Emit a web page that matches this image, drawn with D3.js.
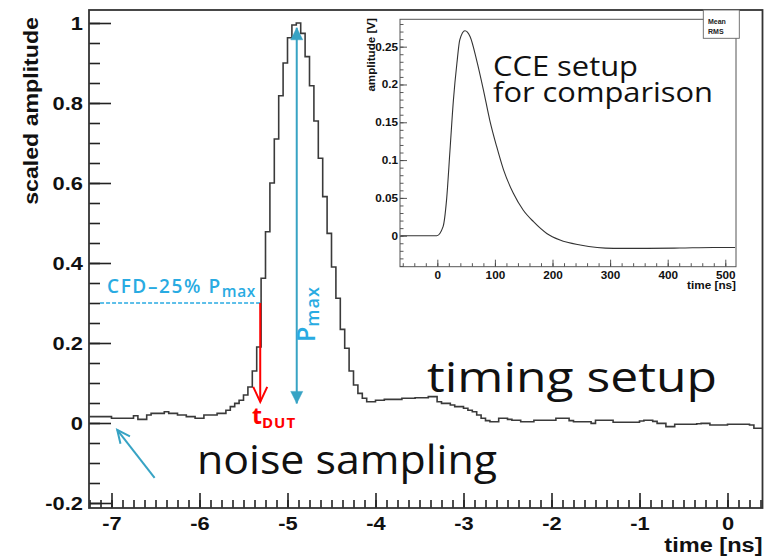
<!DOCTYPE html>
<html>
<head>
<meta charset="utf-8">
<script src="https://cdn.jsdelivr.net/npm/d3@7"></script>
<style>
  body { margin: 0; background: #fff; }
  svg { display: block; }
</style>
</head>
<body>
<script>
// timing setup: scaled amplitude per 50 ps bin, first bin starts at -7.25 ns
const binStart = -7.25;
const binWidth = 0.05;
const amplitude = [
  0.016, 0.016, 0.016, 0.016, 0.016, 0.012, 0.012, 0.012, 0.012, 0.012,
  0.018, 0.009, 0.009, 0.020, 0.024, 0.024, 0.024, 0.028, 0.024, 0.024,
  0.020, 0.020, 0.016, 0.016, 0.012, 0.012, 0.020, 0.020, 0.020, 0.024,
  0.024, 0.032, 0.041, 0.049, 0.057, 0.070, 0.090, 0.130, 0.190, 0.362,
  0.478, 0.600, 0.710, 0.818, 0.900, 0.963, 0.995, 1.000, 0.974, 0.916,
  0.843, 0.755, 0.662, 0.566, 0.474, 0.390, 0.312, 0.234, 0.187, 0.130,
  0.095, 0.074, 0.062, 0.053, 0.053, 0.057, 0.057, 0.059, 0.059, 0.059,
  0.059, 0.062, 0.062, 0.062, 0.063, 0.063, 0.063, 0.066, 0.066, 0.053,
  0.049, 0.049, 0.045, 0.041, 0.041, 0.037, 0.032, 0.028, 0.020, 0.012,
  0.006, 0.003, 0.003, 0.012, 0.012, 0.009, 0.007, 0.007, 0.003, 0.003,
  0.003, 0.007, 0.007, 0.007, 0.007, 0.007, 0.012, 0.012, 0.012, 0.006,
  0.003, 0.003, 0.003, 0.003, -0.001, 0.007, 0.007, 0.007, 0.007, 0.002,
  0.002, 0.002, 0.002, 0.002, 0.002, 0.005, 0.007, 0.007, 0.004, -0.001,
  -0.001, -0.009, -0.009, -0.003, -0.003, -0.003, -0.003, -0.003, -0.002, -0.001,
  -0.001, -0.005, -0.005, -0.005, -0.005, -0.003, -0.003, -0.003, -0.003, -0.003,
  -0.005, -0.013, -0.013
];

// CCE setup (inset): time [ns] and amplitude [V]
const cceTime = [-64, -1, 10, 16, 22, 28, 34, 39, 48, 57, 68, 80, 91, 103, 115, 132, 149, 167, 190, 213, 248, 306, 364, 421, 479, 517];
const cceAmp = [0, 0, 0.012, 0.047, 0.113, 0.18, 0.228, 0.259, 0.271, 0.263, 0.233, 0.193, 0.153, 0.118, 0.087, 0.056, 0.034, 0.0185, 0.003, -0.0057, -0.0123, -0.0167, -0.0167, -0.0163, -0.0157, -0.0157];

const mainXTicks = [-7, -6, -5, -4, -3, -2, -1, 0];
const mainYTicks = [-0.2, 0, 0.2, 0.4, 0.6, 0.8, 1];
const insetXTicks = [0, 100, 200, 300, 400, 500];
const insetYTicks = [0, 0.05, 0.1, 0.15, 0.2, 0.25];

// annotation anchors in data units
const cfdLevel = 0.3;
const cfdStart = -7.13;
const tDut = -5.31;
const tDutEnd = 0.053;
const tPeak = -4.895;
const pmaxTop = 0.988;
const pmaxBottom = 0.049;
const noiseFrom = [-6.51, -0.137];
const noiseTo = [-6.935, -0.017];

const W = 771, H = 559;
const frame = {left: 89, right: 762.5, top: 10, bottom: 508};
const rootFont = '"Liberation Sans", Arial, sans-serif';
const noteFont = '"Open Sans", "Noto Sans", sans-serif';
const cyan = '#29abe2';
const teal = '#37a3c4';

const svg = d3.select('body').append('svg')
  .attr('width', W)
  .attr('height', H);

const defs = svg.append('defs');
function marker(id, path, color, filled, w, h) {
  defs.append('marker')
    .attr('id', id)
    .attr('viewBox', `0 0 ${w} ${h}`)
    .attr('markerUnits', 'userSpaceOnUse')
    .attr('markerWidth', w)
    .attr('markerHeight', h)
    .attr('refX', w)
    .attr('refY', h / 2)
    .attr('orient', 'auto-start-reverse')
    .style('overflow', 'visible')
    .append('path')
    .attr('d', path)
    .attr('fill', filled ? color : 'none')
    .attr('stroke', color)
    .attr('stroke-width', filled ? 0.5 : 2);
}
marker('redHead', 'M0,0 L15,7 L0,14', '#ff0000', false, 15, 14);
marker('tealHead', 'M0,0 L12,6 L0,12 Z', teal, true, 12, 12);
marker('noiseHead', 'M0,0 L13,6 L0,12', teal, false, 13, 12);

const x = d3.scaleLinear().domain([-7.2557, 0.3977]).range([frame.left, frame.right]);
const y = d3.scaleLinear().domain([-0.2125, 1.0325]).range([frame.bottom, frame.top]);

// histogram as a step line
const pts = amplitude.map((v, i) => [binStart + i * binWidth, v]);
pts.push([binStart + amplitude.length * binWidth, amplitude[amplitude.length - 1]]);

defs.append('clipPath').attr('id', 'frameClip')
  .append('rect')
  .attr('x', frame.left).attr('y', frame.top)
  .attr('width', frame.right - frame.left).attr('height', frame.bottom - frame.top);

svg.append('path')
  .datum(pts)
  .attr('clip-path', 'url(#frameClip)')
  .attr('fill', 'none')
  .attr('stroke', '#3a3a3a')
  .attr('stroke-width', 1.6)
  .attr('d', d3.line().x(d => x(d[0])).y(d => y(d[1])).curve(d3.curveStepAfter));

// axes, ticks pointing into the frame
function styleTicks(g, color, width) {
  g.select('.domain').remove();
  g.selectAll('line').attr('stroke', color).attr('stroke-width', width);
}

const yMinor = d3.range(-0.2, 1.001, 0.05);
const gyMinor = svg.append('g')
  .attr('transform', `translate(${frame.left},0)`)
  .call(d3.axisLeft(y).tickValues(yMinor).tickSizeInner(-11).tickSizeOuter(0).tickFormat(''));
styleTicks(gyMinor, '#222', 1.6);

const gy = svg.append('g')
  .attr('transform', `translate(${frame.left},0)`)
  .call(d3.axisLeft(y).tickValues(mainYTicks).tickSizeInner(-22).tickSizeOuter(0).tickPadding(6).tickFormat(d => String(d)));
styleTicks(gy, '#222', 1.6);
gy.selectAll('text')
  .attr('x', null)
  .attr('transform', 'translate(-6,0) scale(1.15,1)')
  .attr('font-family', rootFont)
  .attr('font-size', 19)
  .attr('font-weight', 'bold')
  .attr('fill', '#111');

const xMinor = d3.range(-7.25, 0.4, 0.125);
const gxMinor = svg.append('g')
  .attr('transform', `translate(0,${frame.bottom})`)
  .call(d3.axisBottom(x).tickValues(xMinor).tickSizeInner(-8).tickSizeOuter(0).tickFormat(''));
styleTicks(gxMinor, '#222', 1.6);

const gx = svg.append('g')
  .attr('transform', `translate(0,${frame.bottom})`)
  .call(d3.axisBottom(x).tickValues(mainXTicks).tickSizeInner(-15).tickSizeOuter(0).tickPadding(9).tickFormat(d => String(d)));
styleTicks(gx, '#222', 1.6);
gx.selectAll('text')
  .attr('transform', 'scale(1.15,1)')
  .attr('font-family', rootFont)
  .attr('font-size', 19)
  .attr('font-weight', 'bold')
  .attr('fill', '#111');

svg.append('rect')
  .attr('x', frame.left).attr('y', frame.top)
  .attr('width', frame.right - frame.left).attr('height', frame.bottom - frame.top)
  .attr('fill', 'none')
  .attr('stroke', '#333')
  .attr('stroke-width', 1.8);

svg.append('text')
  .attr('transform', `translate(${frame.right},552) scale(1.15,1)`)
  .attr('text-anchor', 'end')
  .attr('font-family', rootFont)
  .attr('font-size', 20.5)
  .attr('font-weight', 'bold')
  .attr('fill', '#111')
  .text('time [ns]');

svg.append('text')
  .attr('transform', 'translate(38,17) rotate(-90) scale(1.13,1)')
  .attr('text-anchor', 'end')
  .attr('font-family', rootFont)
  .attr('font-size', 20.5)
  .attr('font-weight', 'bold')
  .attr('fill', '#111')
  .text('scaled amplitude');

// inset: CCE setup
const inset = {left: 400, right: 736, top: 19.3, bottom: 266.7};
const xi = d3.scaleLinear().domain([-64.8, 518.6]).range([inset.left, inset.right]);
const yi = d3.scaleLinear().domain([-0.041, 0.2862]).range([inset.bottom, inset.top]);
const gi = svg.append('g');

gi.append('rect')
  .attr('x', inset.left).attr('y', inset.top)
  .attr('width', inset.right - inset.left).attr('height', inset.bottom - inset.top)
  .attr('fill', '#fff');

gi.append('path')
  .datum(cceTime.map((t, i) => [t, cceAmp[i]]))
  .attr('fill', 'none')
  .attr('stroke', '#333')
  .attr('stroke-width', 1.1)
  .attr('d', d3.line().x(d => xi(d[0])).y(d => yi(d[1])).curve(d3.curveMonotoneX));

const yiMinor = d3.range(-0.04, 0.2801, 0.01);
styleTicks(gi.append('g').attr('transform', `translate(${inset.left},0)`)
  .call(d3.axisLeft(yi).tickValues(yiMinor).tickSizeInner(-3.5).tickSizeOuter(0).tickFormat('')), '#444', 0.9);
const giy = gi.append('g').attr('transform', `translate(${inset.left},0)`)
  .call(d3.axisLeft(yi).tickValues(insetYTicks).tickSizeInner(-7).tickSizeOuter(0).tickPadding(2).tickFormat(d => String(d)));
styleTicks(giy, '#444', 0.9);
giy.selectAll('text')
  .attr('x', null)
  .attr('transform', 'translate(-2,0) scale(1.12,1)')
  .attr('font-family', rootFont)
  .attr('font-size', 10.5)
  .attr('font-weight', 'bold')
  .attr('fill', '#111');

const xiMinor = d3.range(-60, 519, 20);
styleTicks(gi.append('g').attr('transform', `translate(0,${inset.bottom})`)
  .call(d3.axisBottom(xi).tickValues(xiMinor).tickSizeInner(-3.5).tickSizeOuter(0).tickFormat('')), '#444', 0.9);
const gix = gi.append('g').attr('transform', `translate(0,${inset.bottom})`)
  .call(d3.axisBottom(xi).tickValues(insetXTicks).tickSizeInner(-7).tickSizeOuter(0).tickPadding(5).tickFormat(d => String(d)));
styleTicks(gix, '#444', 0.9);
gix.selectAll('text')
  .attr('transform', 'scale(1.12,1)')
  .attr('font-family', rootFont)
  .attr('font-size', 10.5)
  .attr('font-weight', 'bold')
  .attr('fill', '#111');

gi.append('rect')
  .attr('x', inset.left).attr('y', inset.top)
  .attr('width', inset.right - inset.left).attr('height', inset.bottom - inset.top)
  .attr('fill', 'none')
  .attr('stroke', '#555')
  .attr('stroke-width', 1);

gi.append('text')
  .attr('transform', `translate(${inset.right},289) scale(1.13,1)`)
  .attr('text-anchor', 'end')
  .attr('font-family', rootFont)
  .attr('font-size', 10.4)
  .attr('font-weight', 'bold')
  .attr('fill', '#111')
  .text('time [ns]');

gi.append('text')
  .attr('transform', 'translate(375,18) rotate(-90) scale(1.13,1)')
  .attr('text-anchor', 'end')
  .attr('font-family', rootFont)
  .attr('font-size', 10.3)
  .attr('font-weight', 'bold')
  .attr('fill', '#111')
  .text('amplitude [V]');

// stats box
gi.append('rect')
  .attr('x', 703.3).attr('y', frame.top)
  .attr('width', 36).attr('height', 28.3)
  .attr('fill', '#fff')
  .attr('stroke', '#666')
  .attr('stroke-width', 0.9);
[['Mean', 23.5], ['RMS', 33.5]].forEach(([label, by]) => {
  gi.append('text')
    .attr('x', 708).attr('y', by)
    .attr('font-family', rootFont)
    .attr('font-size', 7)
    .attr('font-weight', 'bold')
    .attr('fill', '#222')
    .text(label);
});

// free text labels, stretched to the widths seen in the picture
function note(g, label, px, py, size, len) {
  return g.append('text')
    .attr('x', px).attr('y', py)
    .attr('font-family', noteFont)
    .attr('font-size', size)
    .attr('fill', '#111')
    .attr('textLength', len)
    .attr('lengthAdjust', 'spacingAndGlyphs')
    .text(label);
}
note(gi, 'CCE setup', 493, 76, 28, 145);
note(gi, 'for comparison', 493, 102, 28, 220);

// annotations on the timing pulse
svg.append('line')
  .attr('x1', x(cfdStart)).attr('x2', x(tDut))
  .attr('y1', y(cfdLevel)).attr('y2', y(cfdLevel))
  .attr('stroke', cyan)
  .attr('stroke-width', 1.5)
  .attr('stroke-dasharray', '4,2');

const cfdText = svg.append('text')
  .attr('x', 107).attr('y', 293)
  .attr('font-family', noteFont)
  .attr('font-weight', 600)
  .attr('font-size', 19)
  .attr('letter-spacing', 1.6)
  .attr('fill', cyan);
cfdText.append('tspan').text('CFD–25% P');
cfdText.append('tspan').attr('font-size', 15.5).attr('dy', 3.5).attr('letter-spacing', 0.6).text('max');

svg.append('line')
  .attr('x1', x(tDut)).attr('x2', x(tDut))
  .attr('y1', y(cfdLevel)).attr('y2', y(tDutEnd))
  .attr('stroke', '#ff0000')
  .attr('stroke-width', 2)
  .attr('marker-end', 'url(#redHead)');

const tText = svg.append('text')
  .attr('x', 252).attr('y', 424)
  .attr('font-family', noteFont)
  .attr('font-weight', 700)
  .attr('font-size', 23)
  .attr('fill', '#ff0000');
tText.append('tspan').text('t');
tText.append('tspan').attr('font-size', 15).attr('dy', 4).attr('letter-spacing', 1).text('DUT');

svg.append('line')
  .attr('x1', x(tPeak)).attr('x2', x(tPeak))
  .attr('y1', y(pmaxBottom)).attr('y2', y(pmaxTop))
  .attr('stroke', teal)
  .attr('stroke-width', 2)
  .attr('marker-start', 'url(#tealHead)')
  .attr('marker-end', 'url(#tealHead)');

const pText = svg.append('text')
  .attr('transform', 'translate(315,342) rotate(-90)')
  .attr('font-family', noteFont)
  .attr('font-weight', 600)
  .attr('font-size', 25)
  .attr('fill', cyan);
pText.append('tspan').text('P');
pText.append('tspan').attr('font-size', 18).attr('dy', 4).attr('letter-spacing', 1).text('max');

svg.append('line')
  .attr('x1', x(noiseFrom[0])).attr('y1', y(noiseFrom[1]))
  .attr('x2', x(noiseTo[0])).attr('y2', y(noiseTo[1]))
  .attr('stroke', teal)
  .attr('stroke-width', 2)
  .attr('marker-end', 'url(#noiseHead)');

note(svg, 'timing setup', 427, 392, 42, 290);
note(svg, 'noise sampling', 197, 474, 41, 300);
</script>
</body>
</html>
